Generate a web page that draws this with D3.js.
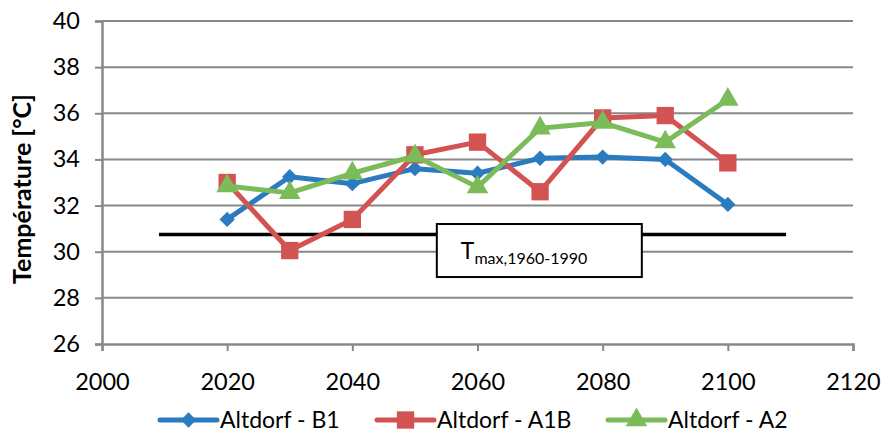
<!DOCTYPE html>
<html>
<head>
<meta charset="utf-8">
<script src="https://cdn.jsdelivr.net/npm/d3@7"></script>
<style>
  body { margin: 0; background: #fff; }
  text { font-family: Lato, "Open Sans", sans-serif; fill: #000; }
</style>
</head>
<body>
<svg id="chart" width="884" height="434"></svg>
<script>
const years = [2020, 2030, 2040, 2050, 2060, 2070, 2080, 2090, 2100];
const b1  = [31.4, 33.25, 32.95, 33.6, 33.4, 34.05, 34.1, 34.0, 32.05];
const a1b = [33.0, 30.05, 31.4, 34.2, 34.75, 32.6, 35.8, 35.9, 33.85];
const a2  = [32.85, 32.55, 33.4, 34.15, 32.8, 35.35, 35.6, 34.75, 36.6];
const seriesNames = ["Altdorf - B1", "Altdorf - A1B", "Altdorf - A2"];
const refYears = [2009.1, 2109.3];
const refValue = 30.75;
const xTicks = [2000, 2020, 2040, 2060, 2080, 2100, 2120];
const yTicks = [26, 28, 30, 32, 34, 36, 38, 40];

const margin = { top: 21, right: 31, bottom: 90, left: 102 };
const svg = d3.select("svg#chart"),
  width = +svg.attr("width") - margin.left - margin.right,
  height = +svg.attr("height") - margin.top - margin.bottom,
  g = svg.append("g").attr("transform", `translate(${margin.left}, ${margin.top})`);

const x = d3.scaleLinear().domain([2000, 2120]).range([0, width]);
const y = d3.scaleLinear().domain([26, 40]).range([height, 0]);

const grey = "#888888";

// gridlines
g.selectAll(".grid")
  .data(yTicks.slice(1))
  .enter().append("line")
  .attr("x1", 0).attr("x2", width)
  .attr("y1", d => y(d)).attr("y2", d => y(d))
  .attr("stroke", grey).attr("stroke-width", 2);

// y axis
const yAxis = g.append("g")
  .call(d3.axisLeft(y).tickValues(yTicks).tickSize(7).tickPadding(15).tickFormat(d3.format("d")));
yAxis.select(".domain").attr("stroke", grey).attr("stroke-width", 2.5);
yAxis.selectAll(".tick line").attr("stroke", grey).attr("stroke-width", 2);
yAxis.selectAll("text").style("font-size", "23.5px");

// x axis
const xAxis = g.append("g")
  .attr("transform", `translate(0, ${height})`)
  .call(d3.axisBottom(x).tickValues(xTicks).tickSize(7).tickPadding(22).tickFormat(d3.format("d")));
xAxis.select(".domain").attr("stroke", grey).attr("stroke-width", 2.5);
xAxis.selectAll(".tick line").attr("stroke", grey).attr("stroke-width", 2);
xAxis.selectAll("text").style("font-size", "23.5px");

// y axis title
svg.append("text")
  .attr("transform", `translate(31, 189) rotate(-90)`)
  .attr("text-anchor", "middle")
  .style("font-size", "25px")
  .style("font-weight", "bold")
  .text("Température [°C]");

// reference line
g.append("line")
  .attr("x1", x(refYears[0])).attr("x2", x(refYears[1]))
  .attr("y1", y(refValue)).attr("y2", y(refValue))
  .attr("stroke", "#000").attr("stroke-width", 3.5);

// label box
const box = g.append("g").attr("transform", `translate(${x(2053.5)}, ${y(31.2)})`);
box.append("rect")
  .attr("width", 205).attr("height", 53)
  .attr("fill", "#fff").attr("stroke", "#000").attr("stroke-width", 2);
const lbl = box.append("text").attr("x", 24).attr("y", 35).style("font-size", "23px");
lbl.append("tspan").text("T");
lbl.append("tspan").attr("dy", 5).style("font-size", "16px").text("max,1960-1990");

const colors = ["#2a7bbf", "#d35352", "#7cbb5a"];
const symbols = [d3.symbolDiamond2, d3.symbolSquare, d3.symbolTriangle];
const symSizes = [150, 300, 200];
const allSeries = [b1, a1b, a2];

const line = d3.line().x((d, i) => x(years[i])).y(d => y(d));

allSeries.forEach((vals, k) => {
  g.append("path")
    .datum(vals)
    .attr("fill", "none")
    .attr("stroke", colors[k])
    .attr("stroke-width", 5)
    .attr("stroke-linejoin", "round")
    .attr("d", line);
  g.selectAll(".m" + k)
    .data(vals)
    .enter().append("path")
    .attr("class", "m" + k)
    .attr("transform", (d, i) => `translate(${x(years[i])}, ${y(d)})`)
    .attr("d", d3.symbol().type(symbols[k]).size(symSizes[k]))
    .attr("fill", colors[k]);
});

// legend
const legendX = [160, 377, 608];
const legend = svg.selectAll(".legend")
  .data(seriesNames)
  .enter().append("g")
  .attr("class", "legend")
  .attr("transform", (d, i) => `translate(${legendX[i]}, 420)`);

legend.append("line")
  .attr("x1", 0).attr("x2", 57)
  .attr("stroke", (d, i) => colors[i])
  .attr("stroke-width", 5)
  .attr("stroke-linecap", "round");
legend.append("path")
  .attr("transform", "translate(28.5, 0)")
  .attr("d", (d, i) => d3.symbol().type(symbols[i]).size(symSizes[i])())
  .attr("fill", (d, i) => colors[i]);
legend.append("text")
  .attr("x", 60)
  .attr("dy", "0.34em")
  .style("font-size", "23px")
  .text(d => d);
</script>
</body>
</html>
